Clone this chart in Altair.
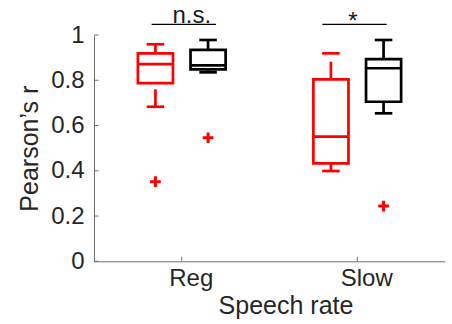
import altair as alt
import pandas as pd

# ---- data ----
categories = ["Reg", "Slow"]
groups = ["Group 1", "Group 2"]
group_colors = ["#ff0000", "#000000"]

box_cat = ["Reg", "Reg", "Slow", "Slow"]
box_grp = ["Group 1", "Group 2", "Group 1", "Group 2"]
upper_cap = [0.959, 0.978, 0.919, 0.978]
upper_whisker_end = [0.959, 0.978, 0.882, 0.978]
q3 = [0.919, 0.934, 0.804, 0.893]
median = [0.871, 0.866, 0.551, 0.853]
q1 = [0.787, 0.848, 0.433, 0.705]
lower_whisker_start = [0.760, 0.848, 0.433, 0.705]
lower_cap = [0.683, 0.835, 0.399, 0.654]

out_cat = ["Reg", "Reg", "Slow"]
out_grp = ["Group 1", "Group 2", "Group 2"]
out_val = [0.352, 0.546, 0.244]

sig_text = ["n.s.", "*"]
sig_x0 = [0.828, 1.801]
sig_x1 = [1.195, 2.168]
sig_line_y = [1.047, 1.047]
sig_text_x = [1.057, 1.976]
sig_text_y = [1.054, 1.026]

y_ticks = [0, 0.2, 0.4, 0.6, 0.8, 1]

# ---- layout / style constants ----
W, H = 351, 226.3
GROUP_OFFSET = {"Group 1": -0.15, "Group 2": 0.15}
BOX_HALF = 0.1
CAP_HALF = 0.05
LW = 2.7
AXIS_COLOR = "#707070"
TEXT_COLOR = "#262626"
FONT = "Liberation Sans"

cat_pos = {c: i + 1 for i, c in enumerate(categories)}

boxes = pd.DataFrame({
    "cat": box_cat, "grp": box_grp, "ucap": upper_cap, "uw": upper_whisker_end,
    "q3": q3, "med": median, "q1": q1, "lw": lower_whisker_start, "lcap": lower_cap,
})
boxes["xc"] = [cat_pos[c] + GROUP_OFFSET[g] for c, g in zip(box_cat, box_grp)]
boxes["xl"] = boxes["xc"] - BOX_HALF
boxes["xr"] = boxes["xc"] + BOX_HALF
boxes["cl"] = boxes["xc"] - CAP_HALF
boxes["cr"] = boxes["xc"] + CAP_HALF

outl = pd.DataFrame({"cat": out_cat, "grp": out_grp, "v": out_val})
outl["xc"] = [cat_pos[c] + GROUP_OFFSET[g] for c, g in zip(out_cat, out_grp)]

sig = pd.DataFrame({"t": sig_text, "x0": sig_x0, "x1": sig_x1, "ly": sig_line_y,
                    "tx": sig_text_x, "ty": sig_text_y})

yt = pd.DataFrame({"v": y_ticks})
xt = pd.DataFrame({"v": [cat_pos[c] for c in categories]})

xscale = alt.Scale(domain=[0.5, 2.5], nice=False, zero=False)
yscale = alt.Scale(domain=[0, 1], nice=False, zero=False)
color = alt.Color("grp:N", scale=alt.Scale(domain=groups, range=group_colors), legend=None)

label_expr = " : ".join(
    [f"datum.value == {cat_pos[c]} ? '{c}'" for c in categories[:-1]] + [f"'{categories[-1]}'"]
)

xaxis = alt.Axis(
    title="Speech rate", values=[cat_pos[c] for c in categories], labelExpr=label_expr,
    ticks=False, grid=False, labelPadding=5, labelOffset=9,
    titleX=191.5, titleY=52, titleBaseline="alphabetic", titleAlign="center",
)
yaxis = alt.Axis(
    title="Pearson\u2019s r", values=y_ticks, format="~g", ticks=False, grid=False,
    labelPadding=10, titleX=-56.5, titleY=H / 2, titleAngle=270,
    titleBaseline="alphabetic", titleAlign="center",
)


def X(field):
    return alt.X(field, scale=xscale, axis=xaxis)


def Y(field):
    return alt.Y(field, scale=yscale, axis=yaxis)


box_rect = alt.Chart(boxes).mark_rect(filled=False, strokeWidth=LW).encode(
    x=X("xl:Q"), x2="xr:Q", y=Y("q1:Q"), y2="q3:Q", color=color,
)
med_rule = alt.Chart(boxes).mark_rule(strokeWidth=LW).encode(
    x=X("xl:Q"), x2="xr:Q", y=Y("med:Q"), color=color,
)
up_whisk = alt.Chart(boxes).mark_rule(strokeWidth=LW).encode(
    x=X("xc:Q"), y=Y("q3:Q"), y2="uw:Q", color=color,
)
lo_whisk = alt.Chart(boxes).mark_rule(strokeWidth=LW).encode(
    x=X("xc:Q"), y=Y("lw:Q"), y2="lcap:Q", color=color,
)
up_cap = alt.Chart(boxes).mark_rule(strokeWidth=LW).encode(
    x=X("cl:Q"), x2="cr:Q", y=Y("ucap:Q"), color=color,
)
lo_cap = alt.Chart(boxes).mark_rule(strokeWidth=LW).encode(
    x=X("cl:Q"), x2="cr:Q", y=Y("lcap:Q"), color=color,
)
outliers = alt.Chart(outl).mark_point(
    shape="M-1,0L1,0M0,-1L0,1", filled=False, strokeWidth=3, size=115,
    color="#ff0000", opacity=1,
).encode(x=X("xc:Q"), y=Y("v:Q"))
sig_lines = alt.Chart(sig).mark_rule(strokeWidth=1.2, color="#000000").encode(
    x=X("x0:Q"), x2="x1:Q", y=Y("ly:Q"),
)
sig_labels = alt.Chart(sig).mark_text(
    font=FONT, fontSize=24, baseline="alphabetic", align="center", color="#1a1a1a",
).encode(x=X("tx:Q"), y=Y("ty:Q"), text="t:N")
ytick_marks = alt.Chart(yt).mark_rule(strokeWidth=1, color=AXIS_COLOR).encode(
    y=Y("v:Q"), x=alt.value(0), x2=alt.value(4.5),
)
xtick_marks = alt.Chart(xt).mark_rule(strokeWidth=1, color=AXIS_COLOR).encode(
    x=X("v:Q"), y=alt.value(H), y2=alt.value(H - 4.5),
)

chart = alt.layer(
    box_rect, med_rule, up_whisk, lo_whisk, up_cap, lo_cap, outliers,
    sig_lines, sig_labels, ytick_marks, xtick_marks,
).properties(
    width=W, height=H,
    autosize=alt.AutoSizeParams(type="none"),
    padding={"left": 94, "top": 35, "right": 7, "bottom": 324 - 35 - H},
    background="white",
).configure_view(stroke=None).configure_axis(
    domainColor=AXIS_COLOR, domainWidth=1,
    labelFont=FONT, labelFontSize=24, labelColor=TEXT_COLOR,
    titleFont=FONT, titleFontSize=25, titleColor=TEXT_COLOR, titleFontWeight="normal",
    labelOverlap=False,
)

chart.save("out.html", embed_options={"renderer": "svg", "actions": False})
